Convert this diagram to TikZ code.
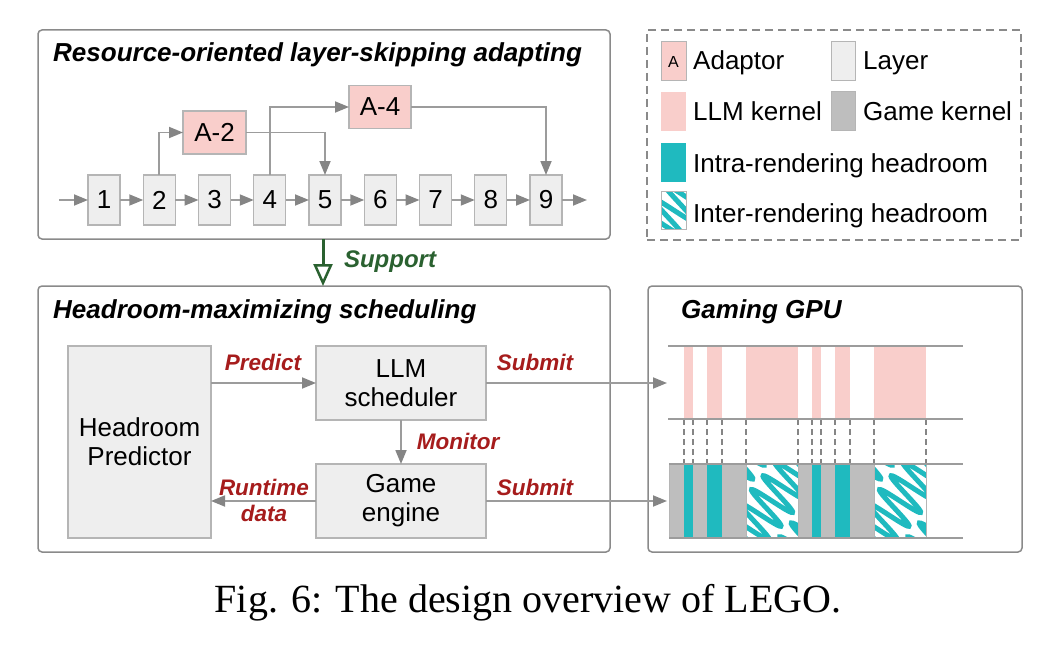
\documentclass[tikz,border=0pt]{standalone}
\usepackage{fontspec}
\setmainfont{Liberation Sans}
\newfontfamily\capfont{Liberation Serif}
\usetikzlibrary{arrows.meta}
\definecolor{pinkk}{HTML}{F9CECB}
\definecolor{layerc}{HTML}{EEEEEE}
\definecolor{layerb}{HTML}{B5B5B5}
\definecolor{gamec}{HTML}{BEBEBE}
\definecolor{tealc}{HTML}{1FBABF}
\definecolor{redl}{HTML}{A61C1C}
\definecolor{greenl}{HTML}{2A6130}
\definecolor{conn}{HTML}{9C9C9C}
\definecolor{tipc}{HTML}{858585}
\definecolor{framec}{HTML}{8A8A8A}
\tikzset{
  big/.style={font=\fontsize{26}{29}\selectfont},
  lbl/.style={font=\fontsize{22.5}{26}\selectfont\bfseries\itshape, text=redl, inner sep=0pt, align=center},
  ttl/.style={font=\fontsize{26}{29}\selectfont\bfseries\itshape, anchor=base west, inner sep=0pt},
  legtext/.style={font=\fontsize{26}{29}\selectfont, anchor=base west, inner sep=0pt},
  layerbox/.style={draw=layerb, fill=layerc, line width=1.2pt, minimum width=32pt, minimum height=50pt, inner sep=0pt, outer sep=0pt, big},
  adbox/.style={draw=layerb, fill=pinkk, line width=1.2pt, minimum width=63pt, minimum height=43pt, inner sep=0pt, outer sep=0pt, big},
  procbox/.style={draw=layerb, fill=layerc, line width=1.2pt, inner sep=0pt, outer sep=0pt, big, align=center},
  framebox/.style={draw=framec, line width=1.5pt, rounded corners=4pt, inner sep=0pt, outer sep=0pt},
  arr/.style={draw=conn, line width=1.8pt, -{Triangle[length=14pt,width=11pt,color=tipc]}},
  lane/.style={draw=conn, line width=1.8pt},
  sup/.style={draw=greenl, line width=3pt, -{Triangle[open,length=22pt,width=19pt,color=greenl,fill=white,line width=2.5pt]}},
}
\newcommand\snakefill[4]{%
  \begin{scope}
    \clip (#1,#3) rectangle (#2,#4);
    \fill[white] (#1,#3) rectangle (#2,#4);
    \foreach \o in {-104,-52,0,52,104} {
      \begin{scope}[shift={({(#1+#2)/2},{(#3+#4)/2})}, rotate=50]
        \draw[tealc, line width=5pt, line cap=round] plot[domain=-80:80, samples=240, smooth] (\x, {\o + 23*sin(\x*20)});
      \end{scope}
    }
  \end{scope}
  \draw[layerb, line width=1pt] (#1,#3) rectangle (#2,#4);
}
\begin{document}
\begin{tikzpicture}[x=1pt, y=-1pt]
\useasboundingbox (0,0) rectangle (1054,650);

% frames
\node[framebox, minimum width=572pt, minimum height=209pt] (TB) at (324,134.5) {};
\node[framebox, minimum width=572pt, minimum height=266pt] (BB) at (324,419) {};
\node[framebox, minimum width=374pt, minimum height=266pt] (GB) at (835,419) {};
\node[draw=framec, line width=1.5pt, dash pattern=on 8pt off 5pt, minimum width=374pt, minimum height=210pt, inner sep=0pt, outer sep=0pt] (LG) at (834,135) {};

% titles
\node[ttl] (t1) at (53,62) {Resource-oriented layer-skipping adapting};
\node[ttl] (t2) at (53,318) {Headroom-maximizing scheduling};
\node[ttl] (t3) at (681,318) {Gaming GPU};

% layers
\foreach \i in {1,...,9} {
  \node[layerbox] (L\i) at ({104+55.25*(\i-1)},200) {\i};
}
\foreach \i [evaluate=\i as \j using int(\i+1)] in {1,...,8} {
  \draw[arr] (L\i) -- (L\j);
}
\coordinate (in) at (59,200);
\coordinate (out) at (587,200);
\draw[arr] (in) -- (L1);
\draw[arr] (L9) -- (out);

\node[adbox] (A2) at (214.5,132.5) {A-2};
\node[adbox, minimum width=62pt] (A4) at (380,107) {A-4};
\draw[arr] (L2.north) |- (A2.west);
\draw[arr] (A2.east) -| (L5.north);
\draw[arr] (L4.north) |- (A4.west);
\draw[arr] (A4.east) -| (L9.north);

% support
\draw[sup] (TB.south -| 323,0) -- (BB.north -| 323,0);
\node[font=\fontsize{24}{28}\selectfont\bfseries\itshape, text=greenl, inner sep=0pt] (suplbl) at (390,262) {Support};

% scheduling
\node[procbox, minimum width=143pt, minimum height=192pt] (HP) at (139.5,442) {Headroom\\Predictor};
\node[procbox, minimum width=170pt, minimum height=74pt] (LS) at (401,383) {LLM\\scheduler};
\node[procbox, minimum width=170pt, minimum height=74pt] (GE) at (401,501) {Game\\engine};
\draw[arr] (HP.east |- LS.west) -- (LS.west);
\draw[arr] (LS.south) -- (GE.north);
\draw[arr] (GE.west) -- (GE.west -| HP.east);
\coordinate (g1) at (667,383);
\coordinate (g2) at (667,501);
\draw[arr] (LS.east) -- (g1);
\draw[arr] (GE.east) -- (g2);
\node[lbl] (lp) at (263,362) {Predict};
\node[lbl] (ls1) at (535,362) {Submit};
\node[lbl] (lm) at (458,441) {Monitor};
\node[lbl] (lr) at (264,500) {Runtime\\data};
\node[lbl] (ls2) at (535,487) {Submit};

% GPU lanes
\foreach \a/\b in {684/693, 707/722, 746/798, 812/821, 835/850, 874/926} {
  \fill[pinkk] (\a,346) rectangle (\b,419);
}
\fill[gamec] (669,464) rectangle (926,538);
\draw[layerb, line width=1pt] (669,464) rectangle (926,538);
\foreach \a/\b in {684/693, 707/722, 812/821, 835/850} {
  \fill[tealc] (\a,464) rectangle (\b,538);
}
\snakefill{746}{798}{464}{538}
\snakefill{874}{926}{464}{538}
\foreach \x in {684,693,707,722,746,798,812,821,835,850,874,926} {
  \draw[tipc, line width=1.2pt, dash pattern=on 6pt off 4pt] (\x,419) -- (\x,464);
}
\draw[lane] (668,346) -- (963,346);
\draw[lane] (668,419) -- (963,419);
\draw[lane] (669,464) -- (963,464);
\draw[lane] (669,538) -- (963,538);

% legend
\draw[layerb, fill=pinkk, line width=1pt] (661,42) rectangle (686,81);
\node[font=\fontsize{16}{18}\selectfont, inner sep=0pt] (la) at (673.5,62) {A};
\draw[layerb, fill=layerc, line width=1pt] (831,42) rectangle (855,81);
\fill[pinkk] (661,92) rectangle (686,131);
\draw[layerb, fill=gamec, line width=1pt] (831,92) rectangle (855,131);
\fill[tealc] (661,143) rectangle (686,182);
\snakefill{661}{686}{191}{229}
\node[legtext] (lt1) at (693,70) {Adaptor};
\node[legtext] (lt2) at (863,70) {Layer};
\node[legtext] (lt3) at (693,121) {LLM kernel};
\node[legtext] (lt4) at (863,121) {Game kernel};
\node[legtext] (lt5) at (693,172) {Intra-rendering headroom};
\node[legtext] (lt6) at (693,222) {Inter-rendering headroom};

% caption
\node[font=\capfont\fontsize{40}{44}\selectfont, anchor=base, inner sep=0pt] (cap) at (528,612) {Fig. 6: The design overview of LEGO.};
\end{tikzpicture}
\end{document}
